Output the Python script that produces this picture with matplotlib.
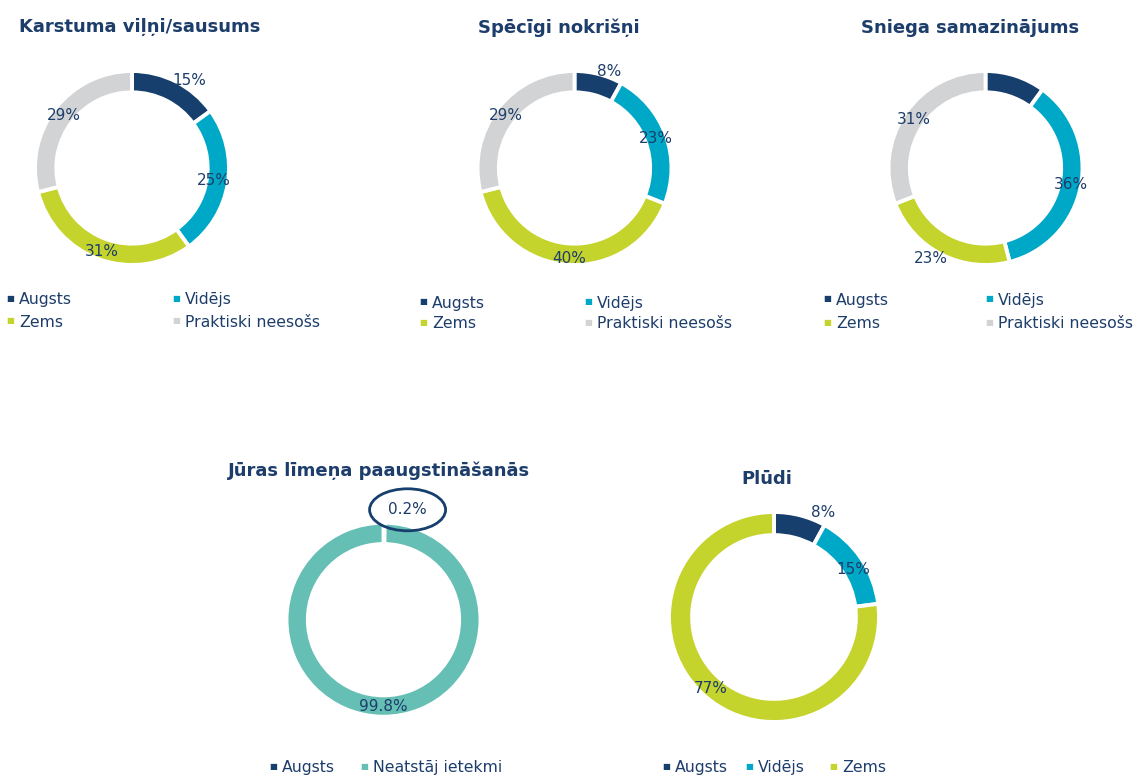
import matplotlib.pyplot as plt
from matplotlib.patches import Ellipse
import numpy as np

# figure size in pixels
W, H = 1136, 776

# ---- data ----
risk_levels = ["Augsts", "Vidējs", "Zems", "Praktiski neesošs"]
karstuma = [15, 25, 31, 29]
nokrisni = [8, 23, 40, 29]
sniegs = [10, 36, 23, 31]          # Augsts slice has no label in the source
juras_levels = ["Augsts", "Neatstāj ietekmi"]
juras = [0.2, 99.8]
pludi_levels = ["Augsts", "Vidējs", "Zems"]
pludi = [8, 15, 77]

titles = ["Karstuma viļņi/sausums", "Spēcīgi nokrišņi", "Sniega samazinājums",
          "Jūras līmeņa paaugstināšanās", "Plūdi"]

c_navy = "#173f6e"
c_cyan = "#00a8c8"
c_lime = "#c5d32d"
c_grey = "#d2d3d5"
c_teal = "#65bfb4"
txt = "#1d3d6b"

colors4 = [c_navy, c_cyan, c_lime, c_grey]

plt.rcParams['font.family'] = ['DejaVu Sans']
fig = plt.figure(figsize=(W / 100, H / 100), dpi=100)


def donut(cx, cy, R, values, colors, lab_r, lab_da=None, show=None):
    ax = fig.add_axes([(cx - 1.4 * R) / W, 1 - (cy + 1.4 * R) / H, 2.8 * R / W, 2.8 * R / H])
    wedges, _ = ax.pie(values, colors=colors, radius=1, startangle=90, counterclock=False,
                       wedgeprops=dict(width=0.22, edgecolor='white', linewidth=2.8))
    ax.set_xlim(-1.4, 1.4)
    ax.set_ylim(-1.4, 1.4)
    ax.axis('off')
    lab_da = lab_da or [0] * len(values)
    show = show or [True] * len(values)
    pos = []
    for w, v, r, da, s in zip(wedges, values, lab_r, lab_da, show):
        a = np.deg2rad((w.theta1 + w.theta2) / 2 + da)
        x, y = r * np.cos(a), r * np.sin(a)
        pos.append((x, y))
        if s:
            ax.text(x, y, f"{v:g}%", ha='center', va='center', fontsize=11, color=txt)
    return ax, pos


def title(x, y, s):
    fig.text(x / W, 1 - y / H, s, ha='center', va='baseline', fontsize=13,
             fontweight='bold', color=txt)


def legend(xs, ys, labels, colors):
    for x, y, lab, col in zip(xs, ys, labels, colors):
        fig.text(x / W, 1 - (y - 6) / H, "■", ha='center', va='center', fontsize=6, color=col)
        fig.text((x + 9) / W, 1 - y / H, lab, ha='left', va='baseline', fontsize=11.3, color=txt)


# Karstuma
donut(132, 168, 97, karstuma, colors4, [1.08, 0.85, 0.91, 0.89], [-6, 0, 0, 0])
title(140, 32, titles[0])
legend([10, 176, 10, 176], [304, 304, 327, 327], risk_levels, colors4)

# Nokrisni
donut(574.5, 168, 97, nokrisni, colors4, [1.06, 0.89, 0.93, 0.89], [-5, 0, 0, 0])
title(559, 33, titles[1])
legend([423, 588, 423, 588], [308, 308, 328, 328], risk_levels, colors4)

# Sniegs
donut(985.5, 168, 97, sniegs, colors4, [1.0, 0.9, 1.09, 0.89], [0, 0, -4, 0],
      show=[False, True, True, True])
title(970, 33, titles[2])
legend([827, 989, 827, 989], [305, 305, 328, 328], risk_levels, colors4)

# Juras limenis
ax4, pos4 = donut(383.5, 619.7, 97, juras, [c_navy, c_teal], [1.16, 0.9], [-12, 0])
ax4.add_patch(Ellipse(pos4[0], 76 / 97, 42 / 97, fill=False, edgecolor=c_navy,
                      linewidth=2, clip_on=False))
title(379, 476, titles[3])
legend([273, 364], [772, 772], juras_levels, [c_navy, c_teal])

# Pludi
donut(774, 617, 105, pludi, [c_navy, c_cyan, c_lime], [1.10, 0.88, 0.91], [-11, -3, 0])
title(767, 484, titles[4])
legend([666, 749, 833], [772, 772, 772], pludi_levels, [c_navy, c_cyan, c_lime])

fig.savefig("out.png", dpi=100, facecolor='white')
